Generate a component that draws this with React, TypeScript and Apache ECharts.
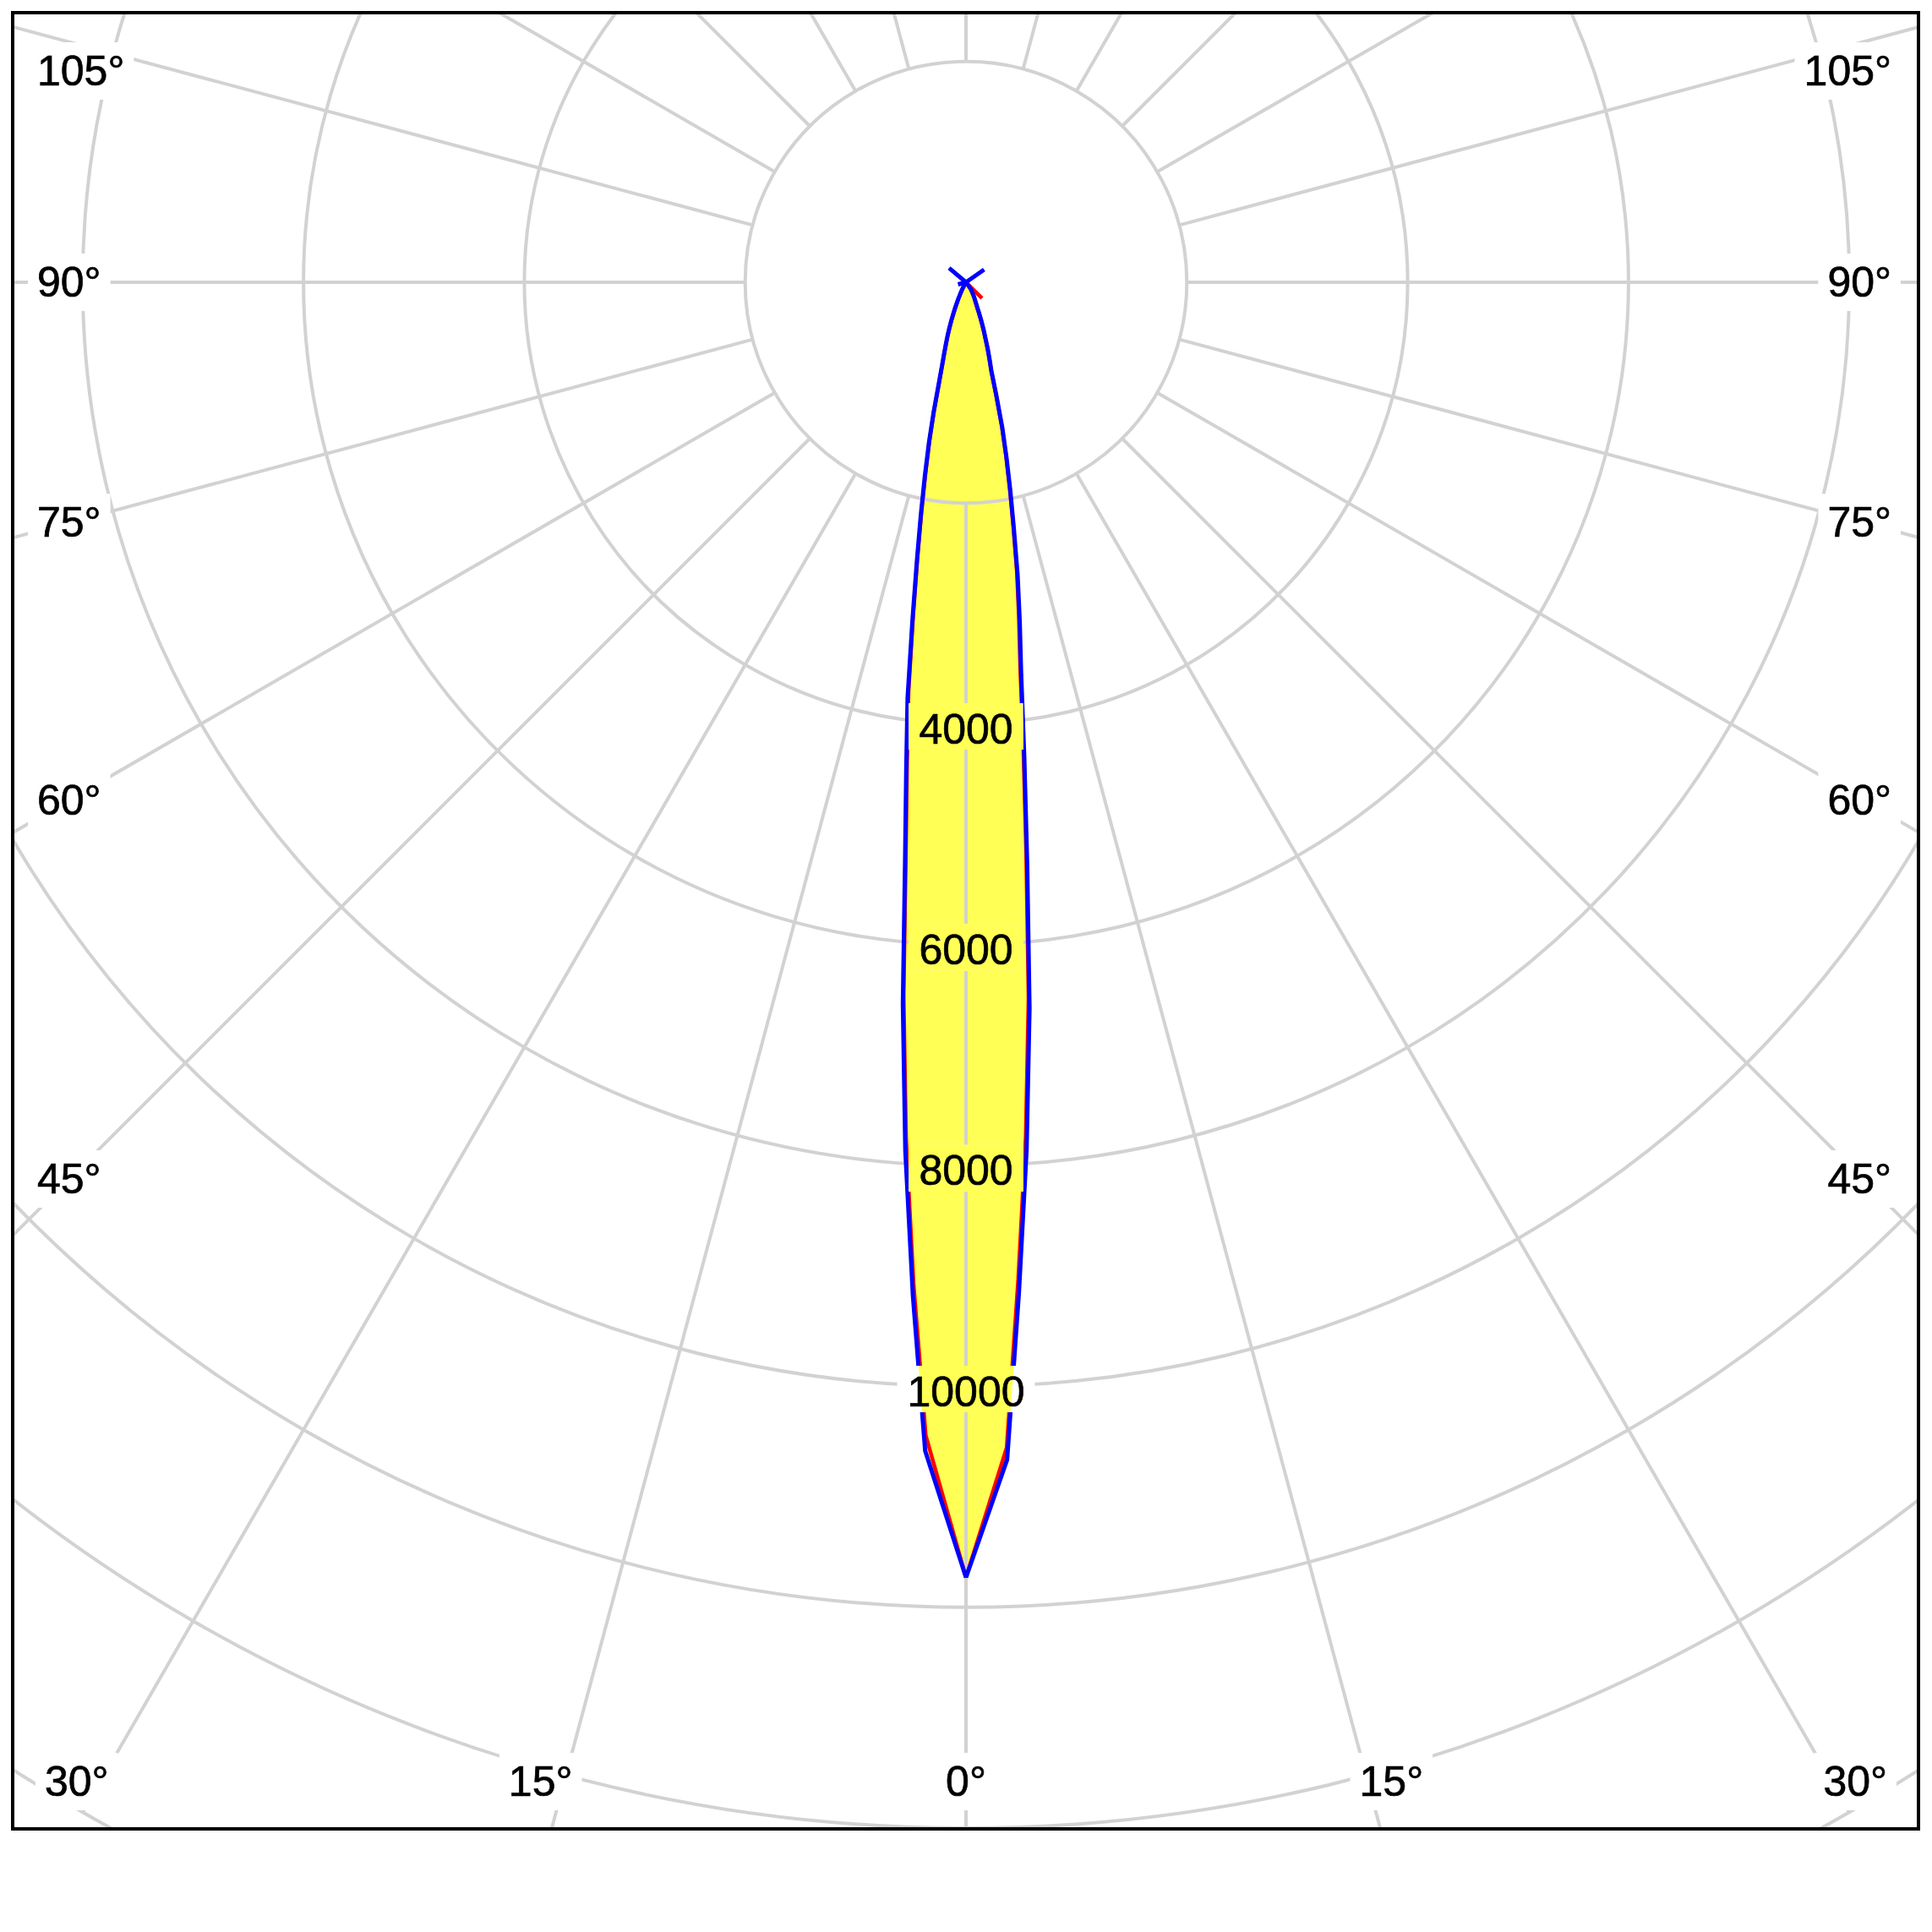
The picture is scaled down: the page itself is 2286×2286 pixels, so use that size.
import React, { useEffect, useRef } from "react";
import * as echarts from "echarts";

// Gamma angles (degrees from nadir)
const gammas = [
  0, 2, 3, 4, 5, 6, 7, 8, 9, 10, 11, 12, 13, 14, 15, 16, 17, 18, 19, 20, 21, 22, 23, 24, 25, 26, 27, 28, 29, 30,
  35, 40, 45, 50, 55, 60, 65, 70, 75, 80, 85, 90, 95, 100, 105, 110, 115, 120, 125, 130, 135, 140, 145, 150, 155,
  160, 165, 170, 175, 180,
];

// C0 plane (red, right side)
const redRight = [
  11730, 10560, 9040, 7760, 6500, 5220, 4270, 3530, 3060, 2650, 2240, 1900, 1610, 1340, 1045, 820, 720, 630, 540,
  470, 405, 345, 290, 245, 215, 190, 170, 155, 140, 125,
  75, 15, 205, 0, 0, 0, 0, 0, 0, 0, 0, 0, 0, 0, 0, 0, 0, 0, 0, 0, 0, 0, 0, 0, 0, 0, 0, 0, 0, 0,
];
// C180 plane (red, left side)
const redLeft = [
  11730, 10450, 9080, 7780, 6480, 5210, 4380, 3740, 3060, 2530, 2110, 1760, 1470, 1190, 940, 780, 670, 580, 505,
  430, 360, 295, 240, 190, 150, 115, 90, 70, 50, 35,
  8, 0, 0, 0, 0, 0, 0, 0, 0, 0, 0, 0, 0, 0, 0, 0, 0, 0, 0, 0, 0, 0, 0, 0, 0, 0, 0, 0, 0, 0,
];
// C90 plane (blue, right side)
const blueRight = [
  11730, 10670, 9160, 7870, 6600, 5300, 4330, 3590, 3110, 2690, 2270, 1930, 1630, 1360, 1060, 830, 730, 640, 550,
  480, 415, 355, 300, 255, 225, 200, 180, 165, 150, 135,
  80, 20, 0, 0, 0, 0, 0, 0, 0, 0, 0, 0, 0, 0, 0, 0, 0, 0, 200, 0, 0, 0, 0, 0, 0, 0, 0, 0, 0, 0,
];
// C270 plane (blue, left side)
const blueLeft = [
  11730, 10590, 9190, 7880, 6560, 5280, 4440, 3800, 3100, 2560, 2140, 1790, 1490, 1210, 955, 790, 680, 590, 515,
  440, 370, 305, 250, 200, 160, 122, 95, 75, 55, 40,
  10, 0, 0, 0, 0, 0, 0, 0, 75, 0, 0, 0, 0, 0, 0, 0, 0, 0, 0, 200, 0, 0, 0, 0, 0, 0, 0, 0, 0, 0,
];

const radiusTickLabels = [4000, 6000, 8000, 10000];
const angleTickLabels = [0, 15, 30, 45, 60, 75, 90, 105];
const radiusGridMin = 2000;
const radiusGridMax = 16000;
const radiusStep = 2000;
const angleStep = 15;

// Layout (chart-div coordinates)
const CHART_W = 2251;
const CHART_H = 2145;
const CX = 1126;
const CY = 317;
const PX_PER_STEP = 261.3;
const R_OUT = (radiusGridMax / radiusStep) * PX_PER_STEP;
const R_IN = (radiusGridMin / radiusStep) * PX_PER_STEP;

const GRID_COLOR = "#d2d2d2";
const GRID_W = 4;
const FILL = "#ffff55";
const FONT = "Liberation Sans";
const FS = 50;
const FONT_CSS = `${FS}px "${FONT}"`;
const TEXT_STROKE = 0.7;

function buildLoop(left: number[], right: number[]) {
  const pts: number[][] = [];
  for (let i = 0; i < gammas.length; i++) pts.push([left[i], gammas[i]]);
  for (let i = gammas.length - 1; i >= 0; i--) pts.push([right[i], 360 - gammas[i]]);
  return pts;
}

function clipPoly(pts: number[][], x0: number, y0: number, x1: number, y1: number) {
  let out = pts;
  const clipEdge = (inside: (p: number[]) => boolean, inter: (a: number[], b: number[]) => number[]) => {
    const res: number[][] = [];
    for (let i = 0; i < out.length; i++) {
      const cur = out[i];
      const prev = out[(i + out.length - 1) % out.length];
      const ci = inside(cur);
      const pi = inside(prev);
      if (ci) {
        if (!pi) res.push(inter(prev, cur));
        res.push(cur);
      } else if (pi) {
        res.push(inter(prev, cur));
      }
    }
    out = res;
  };
  const ix = (x: number) => (a: number[], b: number[]) => {
    const t = (x - a[0]) / (b[0] - a[0]);
    return [x, a[1] + t * (b[1] - a[1])];
  };
  const iy = (y: number) => (a: number[], b: number[]) => {
    const t = (y - a[1]) / (b[1] - a[1]);
    return [a[0] + t * (b[0] - a[0]), y];
  };
  clipEdge((p) => p[0] >= x0, ix(x0));
  if (out.length) clipEdge((p) => p[0] <= x1, ix(x1));
  if (out.length) clipEdge((p) => p[1] >= y0, iy(y0));
  if (out.length) clipEdge((p) => p[1] <= y1, iy(y1));
  return out;
}

function angleLabelGraphics() {
  const els: any[] = [];
  const sideDist = 1061;
  const bottomDist = 1774;
  const padX = 11;
  const mk = (txt: string, x: number, y: number, align: string) => ({
    type: "text",
    z: 100,
    silent: true,
    style: {
      text: txt,
      x,
      y,
      fill: "#000",
      stroke: "#000",
      lineWidth: TEXT_STROKE,
      font: FONT_CSS,
      fontSize: FS,
      fontFamily: FONT,
      align,
      textAlign: align,
      verticalAlign: "middle",
      textVerticalAlign: "middle",
      lineHeight: 52,
      backgroundColor: "#ffffff",
      padding: [8, padX],
    },
  });
  angleTickLabels.forEach((g) => {
    const rad = (g * Math.PI) / 180;
    const txt = `${g}°`;
    if (g <= 30) {
      const off = g === 0 ? 0 : Math.tan(rad) * bottomDist + 28;
      const y = CY + bottomDist;
      els.push(mk(txt, CX - off, y, "center"));
      if (g > 0) els.push(mk(txt, CX + off, y, "center"));
    } else {
      let y = CY + sideDist / Math.tan(rad);
      if (y < 67) y = 67;
      els.push(mk(txt, 27 - padX, y, "left"));
      els.push(mk(txt, CHART_W - 30 + padX, y, "right"));
    }
  });
  return els;
}

export default function App() {
  const ref = useRef<HTMLDivElement>(null);
  useEffect(() => {
    if (!ref.current) return;
    const chart = echarts.init(ref.current, null, { renderer: "svg" });
    const redData = buildLoop(redLeft, redRight);
    const blueData = buildLoop(blueLeft, blueRight);

    const lineSeries = (name: string, data: number[][], z: number, extra: any) => ({
      name,
      type: "line",
      coordinateSystem: "polar",
      polarIndex: 0,
      data,
      symbol: "none",
      silent: true,
      clip: false,
      z,
      ...extra,
    });

    const option: any = {
      animation: false,
      backgroundColor: "#ffffff",
      polar: [
        { center: [CX, CY], radius: [0, R_OUT] },
        { center: [CX, CY], radius: [R_IN, R_OUT] },
      ],
      angleAxis: [
        { polarIndex: 0, type: "value", min: 0, max: 360, startAngle: 270, clockwise: true, show: false },
        {
          polarIndex: 1,
          type: "value",
          min: 0,
          max: 360,
          interval: angleStep,
          startAngle: 270,
          clockwise: true,
          z: 3,
          axisLine: { show: false },
          axisTick: { show: false },
          axisLabel: { show: false },
          splitLine: { show: true, lineStyle: { color: GRID_COLOR, width: GRID_W } },
        },
      ],
      radiusAxis: [
        { polarIndex: 0, type: "value", min: 0, max: radiusGridMax, show: false },
        {
          polarIndex: 1,
          type: "value",
          min: radiusGridMin,
          max: radiusGridMax,
          interval: radiusStep,
          z: 3,
          axisLine: { show: false },
          axisTick: { show: false },
          axisLabel: { show: false },
          splitLine: { show: true, lineStyle: { color: GRID_COLOR, width: GRID_W } },
        },
      ],
      series: [
        lineSeries("C0-C180 fill", redData, 1, {
          lineStyle: { width: 0, opacity: 0 },
          areaStyle: { color: FILL, opacity: 1 },
        }),
        lineSeries("C90-C270 fill", blueData, 1, {
          lineStyle: { width: 0, opacity: 0 },
          areaStyle: { color: FILL, opacity: 1 },
        }),
        lineSeries("C0-C180", redData, 4, { lineStyle: { color: "#ff0000", width: 4.5 } }),
        lineSeries("C90-C270", blueData, 5, { lineStyle: { color: "#0000ff", width: 5 } }),
        {
          name: "radius labels",
          type: "custom",
          coordinateSystem: "polar",
          polarIndex: 0,
          data: radiusTickLabels.map((v) => [v, 0]),
          encode: { radius: 0, angle: 1 },
          silent: true,
          clip: false,
          z: 6,
          renderItem: (params: any, api: any) => {
            const v = api.value(0);
            const a = api.value(1);
            const c = api.coord([v, a]);
            const txt = String(v);
            const w = txt.length * 0.556 * FS + 24;
            const h = 55;
            const x0 = c[0] - w / 2;
            const y0 = c[1] - h / 2 + 3;
            const children: any[] = [
              { type: "rect", shape: { x: x0, y: y0, width: w, height: h }, style: { fill: "#ffffff" } },
            ];
            [redData, blueData].forEach((loop) => {
              const pts = loop.map((p) => api.coord(p));
              const clipped = clipPoly(pts, x0, y0, x0 + w, y0 + h);
              if (clipped.length >= 3) {
                children.push({ type: "polygon", shape: { points: clipped }, style: { fill: FILL } });
              }
            });
            children.push({
              type: "text",
              style: {
                text: txt,
                x: c[0],
                y: c[1] + 6,
                align: "center",
                verticalAlign: "middle",
                textAlign: "center",
                textVerticalAlign: "middle",
                font: FONT_CSS,
                fill: "#000",
                stroke: "#000",
                lineWidth: TEXT_STROKE,
              },
            });
            return { type: "group", children };
          },
        },
      ],
      graphic: angleLabelGraphics(),
    };
    chart.setOption(option);
    return () => chart.dispose();
  }, []);

  return (
    <div style={{ position: "absolute", left: 0, top: 0, width: 2286, height: 2286, background: "#fff" }}>
      <div
        style={{
          position: "absolute",
          left: 13,
          top: 13,
          width: CHART_W,
          height: CHART_H,
          border: "4px solid #000",
          overflow: "hidden",
          background: "#fff",
        }}
      >
        <div ref={ref} style={{ width: CHART_W, height: CHART_H }} />
      </div>
    </div>
  );
}
